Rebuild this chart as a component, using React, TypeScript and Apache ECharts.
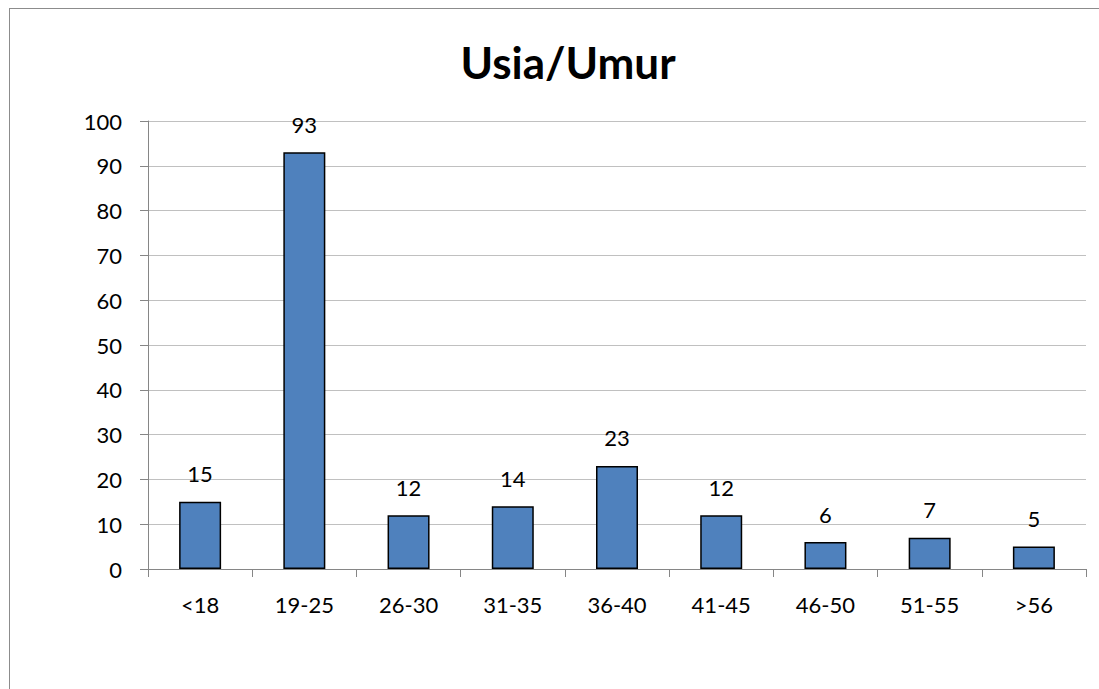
import React, { useEffect, useRef } from "react";
import * as echarts from "echarts";

const categories = ["<18", "19-25", "26-30", "31-35", "36-40", "41-45", "46-50", "51-55", ">56"];
const values = [15, 93, 12, 14, 23, 12, 6, 7, 5];
const yTicks = [0, 10, 20, 30, 40, 50, 60, 70, 80, 90, 100];

const FONT = "Lato, 'Open Sans', sans-serif";

export default function App() {
  const ref = useRef<HTMLDivElement>(null);
  useEffect(() => {
    const chart = echarts.init(ref.current!, undefined, { renderer: "svg" });
    chart.setOption({
      animation: false,
      backgroundColor: "#ffffff",
      title: {
        text: "Usia/Umur",
        left: 563,
        top: 35,
        textAlign: "center",
        textStyle: { fontFamily: FONT, fontSize: 44, fontWeight: "bold", color: "#000" },
      },
      graphic: [
        { type: "line", shape: { x1: 9, y1: 8.5, x2: 1099, y2: 8.5 }, style: { stroke: "#8c8c8c", lineWidth: 1 } },
        { type: "line", shape: { x1: 9.5, y1: 8, x2: 9.5, y2: 689 }, style: { stroke: "#8c8c8c", lineWidth: 1 } },
      ],
      grid: { left: 148, right: 13, top: 121, bottom: 120 },
      xAxis: {
        type: "category",
        data: categories,
        axisLine: { lineStyle: { color: "#868686" } },
        axisTick: { show: true, length: 8, lineStyle: { color: "#868686" } },
        axisLabel: { fontFamily: FONT, fontSize: 22, color: "#000", margin: 24 },
      },
      yAxis: {
        type: "value",
        min: yTicks[0],
        max: yTicks[yTicks.length - 1],
        interval: 10,
        axisLine: { show: true, lineStyle: { color: "#868686" } },
        axisTick: { show: true, length: 8, lineStyle: { color: "#868686" } },
        splitLine: { lineStyle: { color: "#c0c0c0" } },
        axisLabel: { fontFamily: FONT, fontSize: 22, color: "#000", margin: 26 },
      },
      series: [
        {
          type: "bar",
          data: values,
          barWidth: 42,
          itemStyle: { color: "#4F81BD", borderColor: "#000", borderWidth: 1.5 },
          label: {
            show: true,
            position: "top",
            distance: 17,
            fontFamily: FONT,
            fontSize: 22,
            color: "#000",
          },
        },
      ],
    });
    return () => chart.dispose();
  }, []);
  return <div ref={ref} style={{ position: "fixed", left: 0, top: 0, width: 1099, height: 689 }} />;
}
